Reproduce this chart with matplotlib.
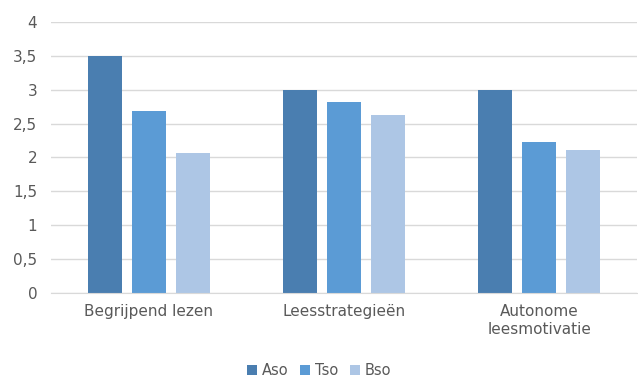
import matplotlib
matplotlib.use("Agg")
import matplotlib.pyplot as plt
import numpy as np

categories = ["Begrijpend lezen", "Leesstrategieën", "Autonome\nleesmotivatie"]
series_names = ["Aso", "Tso", "Bso"]
aso = [3.5, 3.0, 2.99]
tso = [2.68, 2.82, 2.23]
bso = [2.07, 2.63, 2.11]
yticks = [0, 0.5, 1, 1.5, 2, 2.5, 3, 3.5, 4]
ytick_labels = ["0", "0,5", "1", "1,5", "2", "2,5", "3", "3,5", "4"]

colors = ["#4a7eb0", "#5b9bd5", "#adc6e5"]
text_color = "#595959"

fig = plt.figure(figsize=(6.38, 3.78), dpi=100)
ax = fig.add_axes([0.080, 0.225, 0.918, 0.717])

x = np.arange(len(categories))
width = 0.174
offset = 0.2256
for i, (vals, name) in enumerate(zip([aso, tso, bso], series_names)):
    ax.bar(x + (i - 1) * offset, vals, width, color=colors[i], label=name, zorder=3)

ax.set_xlim(-0.5, len(categories) - 0.5)
ax.set_ylim(0, 4)
ax.set_yticks(yticks)
ax.set_yticklabels(ytick_labels)
ax.set_xticks(x)
ax.set_xticklabels(categories, linespacing=1.25)
ax.tick_params(axis="both", length=0, colors=text_color, labelsize=11)
ax.tick_params(axis="y", pad=10)
ax.tick_params(axis="x", pad=8)
ax.grid(axis="y", color="#d9d9d9", linewidth=1, zorder=0)
for s in ["top", "right", "left"]:
    ax.spines[s].set_visible(False)
ax.spines["bottom"].set_color("#d9d9d9")
ax.spines["bottom"].set_zorder(4)

leg = fig.legend(loc="lower center", bbox_to_anchor=(0.5, -0.035), ncol=3, frameon=False,
                 fontsize=10.5, handlelength=0.7, handleheight=0.7, handletextpad=0.3,
                 columnspacing=0.8)
for t in leg.get_texts():
    t.set_color(text_color)

fig.savefig("out.png", dpi=100)
